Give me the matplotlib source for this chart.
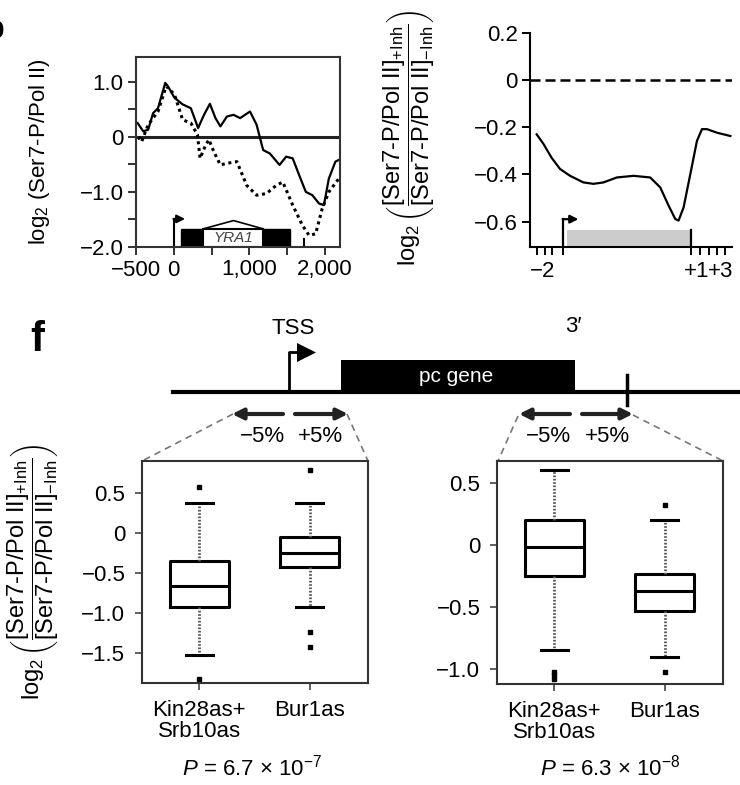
import matplotlib.pyplot as plt
import numpy as np
from matplotlib.patches import Rectangle, Polygon

plt.rcParams['font.family'] = ['Liberation Sans', 'DejaVu Sans']
plt.rcParams['mathtext.fontset'] = 'custom'
plt.rcParams['mathtext.rm'] = 'Liberation Sans'
plt.rcParams['mathtext.it'] = 'Liberation Sans:italic'
plt.rcParams['mathtext.bf'] = 'Liberation Sans:bold'

# panel e left: YRA1 profile, log2(Ser7-P/Pol II)
inh_x = [-478, -404, -339, -274, -209, -113, -78, 9, 117, 226, 322, 400, 478, 552, 617, 704,
         791, 878, 1009, 1096, 1183, 1270, 1400, 1487, 1574, 1661, 1748, 1835, 1922, 1987,
         2052, 2139, 2183]
inh_y = [0.25, 0.10, 0.13, 0.43, 0.52, 0.98, 0.92, 0.71, 0.59, 0.52, 0.16, 0.40, 0.60, 0.34,
         0.19, 0.37, 0.40, 0.34, 0.46, 0.22, -0.24, -0.30, -0.51, -0.36, -0.39, -0.70, -1.00,
         -1.06, -1.21, -1.24, -0.76, -0.45, -0.42]
dot_x = [-470, -426, -339, -209, -100, 9, 117, 226, 313, 348, 422, 465, 530, 617, 704, 835,
         965, 1096, 1226, 1357, 1443, 1574, 1704, 1791, 1878, 1965, 2052, 2183]
dot_y = [0.00, -0.09, 0.22, 0.46, 0.92, 0.77, 0.31, 0.25, 0.04, -0.39, -0.15, -0.05, -0.27,
         -0.51, -0.48, -0.45, -0.88, -1.06, -1.03, -0.88, -0.82, -1.24, -1.61, -1.79, -1.76,
         -1.30, -1.00, -0.76]

# panel e right: metagene average (TSS at 0, gene end at 3.82)
meta_x = [-0.8, -0.6, -0.35, -0.1, 0.2, 0.6, 0.9, 1.2, 1.6, 2.1, 2.6, 2.9, 3.15, 3.35, 3.45,
          3.6, 3.8, 4.0, 4.15, 4.3, 4.6, 5.0]
meta_y = [-0.23, -0.27, -0.33, -0.377, -0.406, -0.434, -0.44, -0.434, -0.413, -0.406, -0.413,
          -0.455, -0.532, -0.589, -0.596, -0.54, -0.40, -0.258, -0.208, -0.208, -0.223, -0.237]

# panel f boxplots
box_names = ['Kin28as+\nSrb10as', 'Bur1as']
tss_stats = [dict(med=-0.66, q1=-0.925, q3=-0.35, whislo=-1.525, whishi=0.375, fliers=[0.575, -1.83]),
             dict(med=-0.25, q1=-0.425, q3=-0.05, whislo=-0.925, whishi=0.375, fliers=[0.79, -1.24, -1.42])]
end_stats = [dict(med=-0.02, q1=-0.25, q3=0.20, whislo=-0.85, whishi=0.605, fliers=[-1.02, -1.045, -1.08]),
             dict(med=-0.37, q1=-0.53, q3=-0.23, whislo=-0.90, whishi=0.20, fliers=[0.32, -1.02])]
p_texts = [r'$P$ = 6.7 $\times$ 10$^{-7}$', r'$P$ = 6.3 $\times$ 10$^{-8}$']

W, H = 740, 785
fig = plt.figure(figsize=(W / 100, H / 100), dpi=100)


def box(l, t, r, b):
    return [l / W, 1 - b / H, (r - l) / W, (b - t) / H]


ratio_lab = (r'$\log_2\left(\dfrac{\text{[Ser7-P/Pol II]}_{\text{+Inh}}}'
             r'{\text{[Ser7-P/Pol II]}_{\text{−Inh}}}\right)$')

# schematic overlay in pixel coords
ov = fig.add_axes([0, 0, 1, 1])
ov.set_xlim(0, W)
ov.set_ylim(H, 0)
ov.axis('off')
ov.plot([173, 740], [392, 392], color='k', lw=3)
ov.add_patch(Rectangle((341, 360), 234, 32, fc='k', ec='none'))
ov.text(456, 377, 'pc gene', color='w', fontsize=15, ha='center', va='center')
ov.plot([289, 289, 298], [392, 352, 352], color='k', lw=2)
ov.add_patch(Polygon([(297, 343), (316, 352.5), (297, 362)], closed=True, fc='k', ec='none'))
ov.text(293, 328, 'TSS', fontsize=16, ha='center', va='center')
ov.text(573, 327, '3\u2032', fontsize=16, ha='center', va='center')
ov.plot([627, 627], [375, 405], color='k', lw=2.5)
for x0, x1 in [(283, 232), (295, 348), (570, 519), (582, 633)]:
    ov.annotate('', xy=(x1, 414), xytext=(x0, 414),
                arrowprops=dict(arrowstyle='-|>', lw=3, color='#222222', mutation_scale=16,
                                shrinkA=0, shrinkB=0))
for x, s in [(262, '\u22125%'), (320, '+5%'), (548, '\u22125%'), (607, '+5%')]:
    ov.text(x, 437, s, fontsize=16, ha='center', va='center')
for (xa, ya), (xb, yb) in [((233, 414), (142, 461)), ((347, 414), (368, 461)),
                           ((518, 416), (498, 461)), ((633, 415), (723, 461))]:
    ov.plot([xa, xb], [ya, yb], color='#777777', lw=1.2, ls=(0, (4, 3)))
ov.text(37, 340, 'f', fontsize=30, fontweight='bold', ha='center', va='center')
ov.text(5, 30, 'b', fontsize=22, fontweight='bold', ha='right', va='center')

# top-left panel
ax1 = fig.add_axes(box(136, 57, 340, 247))
ax1.add_patch(Rectangle((96, -2.0), 295, 0.33, fc='k', ec='k'))
ax1.add_patch(Rectangle((1183, -2.0), 360, 0.33, fc='k', ec='k'))
ax1.add_patch(Rectangle((391, -2.0), 792, 0.33, fc='w', ec='k', lw=1.5))
ax1.plot([391, 791, 1183], [-1.67, -1.52, -1.67], color='k', lw=1.2)
ax1.text(787, -1.84, 'YRA1', style='italic', fontsize=11, color='#444444', ha='center', va='center')
ax1.plot([0, 0], [-2.0, -1.49], color='k', lw=1.5)
ax1.annotate('', xy=(150, -1.49), xytext=(-5, -1.49),
             arrowprops=dict(arrowstyle='-|>', lw=1.5, color='k', mutation_scale=12,
                             shrinkA=0, shrinkB=0))
ax1.plot([1724, 1724], [-2.0, -1.85], color='k', lw=1.5)
ax1.axhline(0, color='#222222', lw=2.2)
ax1.plot(inh_x, inh_y, color='k', lw=1.6)
ax1.plot(dot_x, dot_y, color='k', lw=2.2, ls=(0, (1, 1.2)))
ax1.set_xlim(-500, 2200)
ax1.set_ylim(-2.0, 1.45)
ax1.set_yticks(np.arange(-2.0, 1.01, 0.5))
ax1.set_yticklabels(['\u22122.0', '', '\u22121.0', '', '0', '', '1.0'])
ax1.set_xticks([-500, 0, 500, 1000, 1500, 2000])
ax1.set_xticklabels(['\u2212500', '0', '', '1,000', '', '2,000'])
ax1.tick_params(direction='out', length=6, width=1.4, labelsize=16, pad=3, color='#333333')
for sp in ax1.spines.values():
    sp.set_linewidth(1.5)
    sp.set_color('#333333')
fig.text(40 / W, 1 - 152 / H, r'log$_2$ (Ser7-P/Pol II)', rotation=90, fontsize=16,
         ha='center', va='center')

# top-right panel
ax2 = fig.add_axes(box(530, 33, 732, 247))
ax2.fill_between([0.1, 3.82], -0.708, -0.635, color='#cccccc', lw=0)
ax2.plot([0, 0], [-0.708, -0.59], color='k', lw=1.6)
ax2.annotate('', xy=(0.45, -0.59), xytext=(-0.02, -0.59),
             arrowprops=dict(arrowstyle='-|>', lw=1.6, color='k', mutation_scale=12,
                             shrinkA=0, shrinkB=0))
ax2.plot([3.82, 3.82], [-0.708, -0.635], color='k', lw=1.6)
ax2.axhline(0, color='k', lw=1.8, ls=(0, (4, 2)))
ax2.plot(meta_x, meta_y, color='k', lw=1.6)
ax2.set_xlim(-1.0, 5.05)
ax2.set_ylim(-0.708, 0.2)
ax2.spines['top'].set_visible(False)
ax2.spines['right'].set_visible(False)
for sp in ('left', 'bottom'):
    ax2.spines[sp].set_linewidth(1.5)
ax2.set_yticks([0.2, 0, -0.2, -0.4, -0.6])
ax2.set_yticklabels(['0.2', '0', '\u22120.2', '\u22120.4', '\u22120.6'])
ax2.set_xticks([-0.62, 3.98, 4.72])
ax2.set_xticklabels(['\u22122', '+1', '+3'])
ax2.set_xticks([-0.78, -0.56, -0.35, 0, 3.82, 4.1, 4.35, 4.6, 4.85], minor=True)
ax2.tick_params(axis='x', which='major', length=0, labelsize=16, pad=10)
ax2.tick_params(axis='x', which='minor', direction='out', length=6, width=1.4)
ax2.tick_params(axis='y', direction='out', length=6, width=1.4, labelsize=16, pad=3)
fig.text(409 / W, 1 - 138 / H, ratio_lab, rotation=90, fontsize=17, ha='center', va='center')

# bottom boxplots
for stats, rect, ylim, yt, ytl, ptxt, pcx in [
        (tss_stats, (142, 461, 368, 683), (-1.875, 0.9), [0.5, 0, -0.5, -1.0, -1.5],
         ['0.5', '0', '\u22120.5', '\u22121.0', '\u22121.5'], p_texts[0], 252),
        (end_stats, (497, 461, 723, 684), (-1.12, 0.677), [0.5, 0, -0.5, -1.0],
         ['0.5', '0', '\u22120.5', '\u22121.0'], p_texts[1], 610)]:
    ax = fig.add_axes(box(*rect))
    ax.bxp(stats, positions=[1, 2], widths=0.53, capwidths=0.24,
           boxprops=dict(lw=2.2, color='k'),
           whiskerprops=dict(lw=2, ls=(0, (0.6, 0.6)), color='#555555'),
           capprops=dict(lw=2.2, color='k'),
           medianprops=dict(lw=2.2, color='k'),
           flierprops=dict(marker='s', ms=3, mfc='k', mec='k'))
    ax.set_xlim(0.48, 2.53)
    ax.set_ylim(*ylim)
    ax.set_yticks(yt)
    ax.set_yticklabels(ytl)
    ax.set_xticks([1, 2])
    ax.set_xticklabels(box_names, linespacing=1.05)
    ax.tick_params(direction='out', length=5, width=1.2, labelsize=16, pad=7, color='#444444')
    for sp in ax.spines.values():
        sp.set_linewidth(1.5)
        sp.set_color('#333333')
    fig.text(pcx / W, 1 - 768 / H, ptxt, fontsize=16, ha='center', va='center')

fig.text(33 / W, 1 - 572 / H, ratio_lab, rotation=90, fontsize=17, ha='center', va='center')

fig.savefig('out.png', dpi=100)
